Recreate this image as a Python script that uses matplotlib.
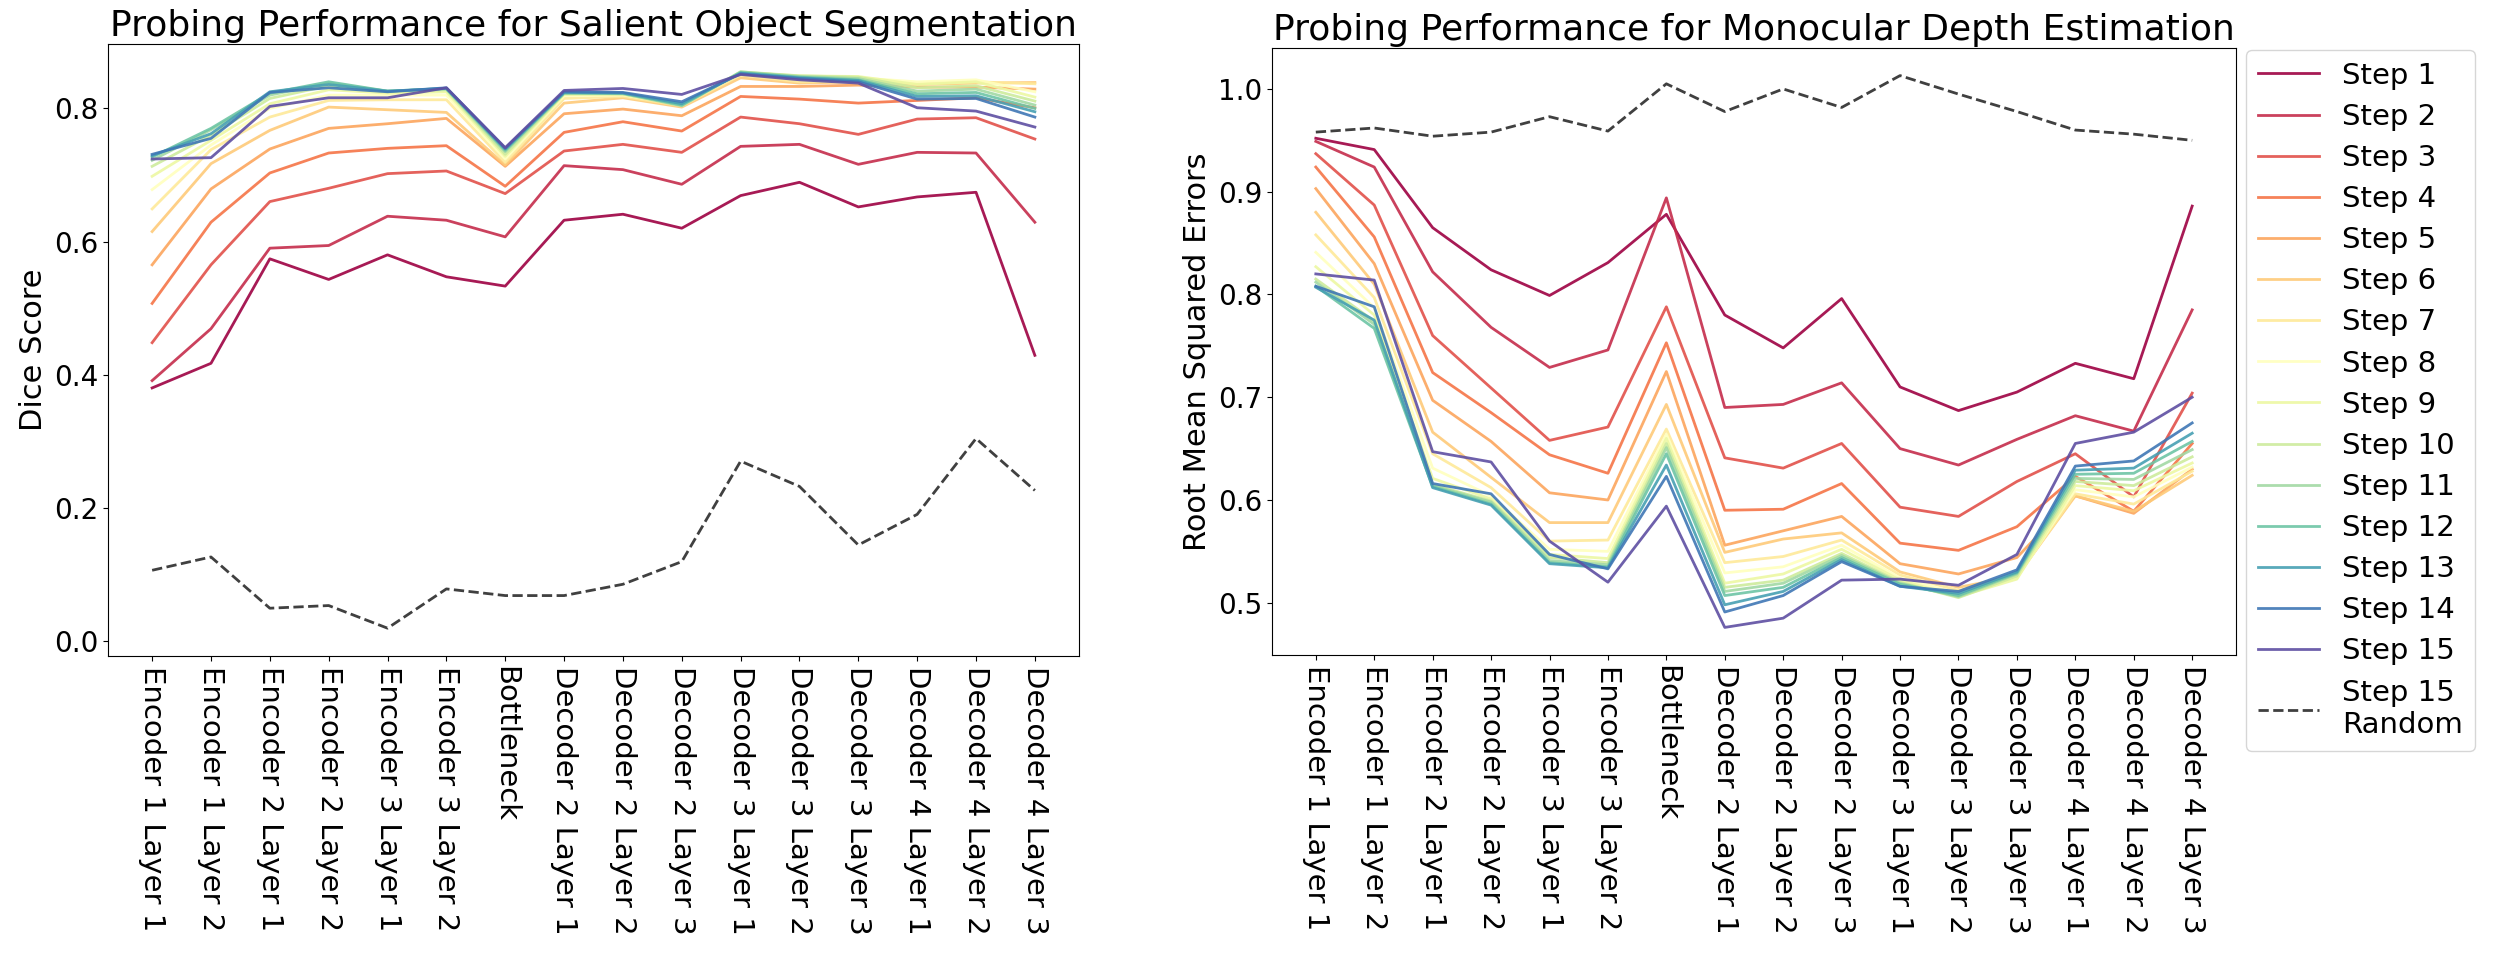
import numpy as np
import matplotlib
matplotlib.use("Agg")
import matplotlib.pyplot as plt

categories = ["Encoder 1 Layer 1", "Encoder 1 Layer 2", "Encoder 2 Layer 1", "Encoder 2 Layer 2",
              "Encoder 3 Layer 1", "Encoder 3 Layer 2", "Bottleneck", "Decoder 2 Layer 1",
              "Decoder 2 Layer 2", "Decoder 2 Layer 3", "Decoder 3 Layer 1", "Decoder 3 Layer 2",
              "Decoder 3 Layer 3", "Decoder 4 Layer 1", "Decoder 4 Layer 2", "Decoder 4 Layer 3"]

step_labels = [f"Step {i}" for i in range(1, 16)]
random_label = "Step 15\nRandom"

# Salient object segmentation (Dice score), one row per step
seg_steps = [
    [0.380, 0.417, 0.574, 0.543, 0.580, 0.547, 0.533, 0.632, 0.641, 0.620, 0.669, 0.689, 0.652, 0.667, 0.674, 0.429],
    [0.391, 0.469, 0.590, 0.594, 0.638, 0.632, 0.607, 0.714, 0.708, 0.686, 0.743, 0.746, 0.716, 0.734, 0.733, 0.629],
    [0.448, 0.565, 0.660, 0.680, 0.702, 0.706, 0.672, 0.736, 0.746, 0.734, 0.787, 0.777, 0.761, 0.784, 0.786, 0.754],
    [0.507, 0.629, 0.703, 0.733, 0.740, 0.744, 0.683, 0.764, 0.780, 0.766, 0.818, 0.814, 0.808, 0.812, 0.816, 0.801],
    [0.565, 0.679, 0.739, 0.770, 0.777, 0.785, 0.713, 0.792, 0.799, 0.789, 0.833, 0.833, 0.835, 0.832, 0.832, 0.829],
    [0.615, 0.717, 0.767, 0.802, 0.798, 0.794, 0.715, 0.808, 0.816, 0.802, 0.846, 0.838, 0.840, 0.836, 0.838, 0.839],
    [0.649, 0.738, 0.787, 0.812, 0.813, 0.813, 0.719, 0.815, 0.818, 0.804, 0.850, 0.840, 0.840, 0.838, 0.840, 0.837],
    [0.678, 0.745, 0.800, 0.820, 0.820, 0.820, 0.724, 0.819, 0.820, 0.806, 0.853, 0.848, 0.846, 0.840, 0.843, 0.825],
    [0.698, 0.752, 0.807, 0.828, 0.823, 0.825, 0.728, 0.821, 0.821, 0.806, 0.854, 0.849, 0.848, 0.836, 0.840, 0.817],
    [0.713, 0.760, 0.815, 0.834, 0.825, 0.828, 0.731, 0.822, 0.822, 0.805, 0.855, 0.849, 0.847, 0.831, 0.834, 0.811],
    [0.722, 0.768, 0.820, 0.838, 0.826, 0.829, 0.735, 0.823, 0.822, 0.804, 0.855, 0.848, 0.845, 0.826, 0.829, 0.805],
    [0.727, 0.770, 0.823, 0.840, 0.826, 0.830, 0.737, 0.823, 0.823, 0.805, 0.854, 0.847, 0.843, 0.822, 0.824, 0.800],
    [0.729, 0.762, 0.825, 0.836, 0.826, 0.830, 0.739, 0.824, 0.823, 0.807, 0.853, 0.846, 0.842, 0.818, 0.819, 0.795],
    [0.731, 0.755, 0.824, 0.831, 0.825, 0.831, 0.740, 0.825, 0.824, 0.810, 0.852, 0.845, 0.840, 0.814, 0.815, 0.787],
    [0.724, 0.726, 0.803, 0.816, 0.816, 0.831, 0.741, 0.827, 0.830, 0.821, 0.851, 0.843, 0.838, 0.801, 0.796, 0.772],
]
seg_random = [0.106, 0.126, 0.049, 0.053, 0.019, 0.078, 0.068, 0.068, 0.085, 0.119, 0.270, 0.232, 0.144, 0.190, 0.304, 0.226]

# Monocular depth estimation (RMSE), one row per step
depth_steps = [
    [0.952, 0.941, 0.865, 0.824, 0.799, 0.831, 0.878, 0.780, 0.748, 0.796, 0.710, 0.687, 0.705, 0.733, 0.718, 0.886],
    [0.949, 0.924, 0.822, 0.768, 0.729, 0.746, 0.894, 0.690, 0.693, 0.714, 0.650, 0.634, 0.659, 0.682, 0.667, 0.785],
    [0.937, 0.887, 0.760, 0.709, 0.658, 0.671, 0.788, 0.641, 0.631, 0.655, 0.593, 0.584, 0.618, 0.645, 0.603, 0.704],
    [0.924, 0.856, 0.724, 0.685, 0.644, 0.626, 0.753, 0.590, 0.591, 0.616, 0.558, 0.551, 0.574, 0.623, 0.589, 0.655],
    [0.903, 0.830, 0.697, 0.657, 0.607, 0.600, 0.725, 0.556, 0.570, 0.584, 0.538, 0.528, 0.544, 0.604, 0.587, 0.630],
    [0.880, 0.810, 0.666, 0.622, 0.578, 0.578, 0.693, 0.549, 0.562, 0.568, 0.530, 0.515, 0.526, 0.604, 0.589, 0.624],
    [0.858, 0.797, 0.645, 0.612, 0.560, 0.561, 0.669, 0.539, 0.545, 0.561, 0.527, 0.512, 0.525, 0.606, 0.596, 0.628],
    [0.841, 0.787, 0.631, 0.604, 0.552, 0.550, 0.664, 0.529, 0.535, 0.556, 0.524, 0.509, 0.524, 0.610, 0.603, 0.632],
    [0.827, 0.780, 0.621, 0.601, 0.547, 0.543, 0.660, 0.519, 0.528, 0.552, 0.522, 0.506, 0.523, 0.614, 0.609, 0.636],
    [0.815, 0.774, 0.615, 0.599, 0.544, 0.539, 0.655, 0.515, 0.522, 0.548, 0.520, 0.505, 0.526, 0.618, 0.614, 0.642],
    [0.812, 0.771, 0.614, 0.598, 0.541, 0.537, 0.651, 0.511, 0.519, 0.546, 0.519, 0.506, 0.528, 0.621, 0.620, 0.649],
    [0.808, 0.767, 0.613, 0.596, 0.539, 0.535, 0.645, 0.507, 0.515, 0.544, 0.518, 0.507, 0.529, 0.625, 0.626, 0.657],
    [0.807, 0.775, 0.612, 0.595, 0.538, 0.534, 0.634, 0.498, 0.511, 0.542, 0.516, 0.509, 0.530, 0.629, 0.631, 0.665],
    [0.808, 0.788, 0.616, 0.606, 0.547, 0.533, 0.623, 0.491, 0.507, 0.540, 0.516, 0.511, 0.532, 0.633, 0.638, 0.675],
    [0.820, 0.814, 0.647, 0.637, 0.560, 0.520, 0.594, 0.476, 0.485, 0.522, 0.523, 0.517, 0.547, 0.655, 0.666, 0.700],
]
depth_random = [0.958, 0.962, 0.954, 0.958, 0.973, 0.959, 1.005, 0.978, 1.000, 0.982, 1.013, 0.995, 0.978, 0.960, 0.956, 0.950]

fig = plt.figure(figsize=(24.96, 9.6), dpi=100)
ax1 = fig.add_axes([108 / 2496, 1 - 656 / 960, 971 / 2496, 612 / 960])
ax2 = fig.add_axes([1272 / 2496, 1 - 655 / 960, 964 / 2496, 607 / 960])

colors = plt.cm.Spectral(np.linspace(0, 1, len(step_labels)))
x = np.arange(len(categories))


def draw(ax, steps, rnd, title, ylabel):
    for vals, c, lab in zip(steps, colors, step_labels):
        ax.plot(x, vals, color=c, lw=2, alpha=0.9, label=lab)
    ax.plot(x, rnd, color="0.25", lw=2, ls="--", label=random_label)
    ax.set_xticks(x)
    ax.set_xticklabels(categories, rotation=-90, fontsize=21)
    ax.tick_params(axis="y", labelsize=20)
    ax.set_title(title, fontsize=26)
    ax.set_ylabel(ylabel, fontsize=22)


draw(ax1, seg_steps, seg_random, "Probing Performance for Salient Object Segmentation", "Dice Score")
draw(ax2, depth_steps, depth_random, "Probing Performance for Monocular Depth Estimation", "Root Mean Squared Errors")

ax2.legend(loc="upper left", bbox_to_anchor=(2246 / 2496, 1 - 50 / 960),
           bbox_transform=fig.transFigure, borderaxespad=0, fontsize=21,
           handlelength=2.1, labelspacing=0.45)

fig.savefig("out.png", dpi=100)
